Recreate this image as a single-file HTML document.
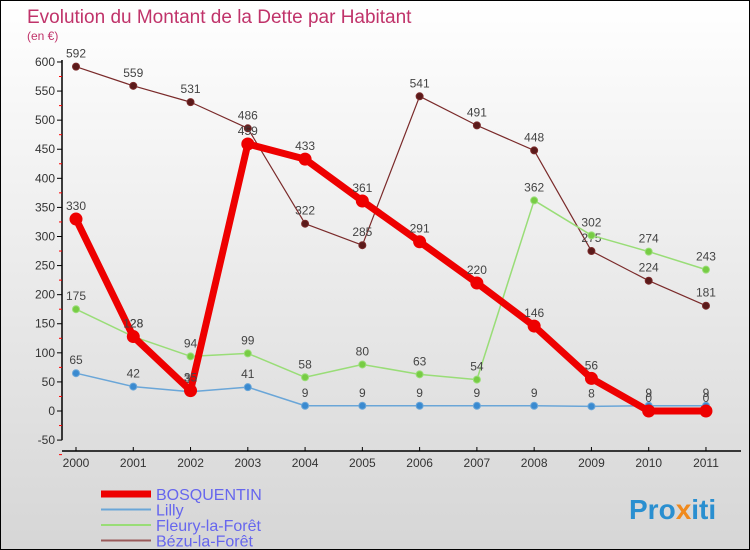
<!DOCTYPE html>
<html><head><meta charset="utf-8"><style>
body{margin:0}
#c{width:748px;height:548px;border:1px solid #000;background:linear-gradient(#fff,#d6d6d6);position:relative;font-family:"Liberation Sans",sans-serif;overflow:hidden}
svg text{font-family:"Liberation Sans",sans-serif}
</style></head><body>
<div id="c">
<svg id="s" width="748" height="548">
<text x="26" y="22" font-size="19" fill="#c0336a">Evolution du Montant de la Dette par Habitant</text>
<text x="26" y="39" font-size="12" fill="#c0336a">(en €)</text>
<text x="628" y="518" font-size="28" font-weight="bold" fill="#2a8fd0">Pro<tspan fill="#f08a1e">x</tspan>iti</text>
</svg></div>
<script>
const years=["2000","2001","2002","2003","2004","2005","2006","2007","2008","2009","2010","2011"];
const yTicks=[600,550,500,450,400,350,300,250,200,150,100,50,0,-50];
const bosquentin=[330,128,35,459,433,361,291,220,146,56,0,0];
const lilly=[65,42,33,41,9,9,9,9,9,8,9,9];
const fleury=[175,128,94,99,58,80,63,54,362,302,274,243];
const bezu=[592,559,531,486,322,285,541,491,448,275,224,181];
const NS="http://www.w3.org/2000/svg",s=document.getElementById('s');
const X=i=>75+i*57.27, Y=v=>410-v*0.5817;
function el(t,a,p){const e=document.createElementNS(NS,t);for(const k in a)e.setAttribute(k,a[k]);(p||s).appendChild(e);return e;}
// axes
let ax=el('line',{x1:61,y1:Y(600)-2,x2:61,y2:Y(-50),stroke:'#000','stroke-width':1.5});

yTicks.forEach(v=>{el('line',{x1:56,x2:61,y1:Y(v),y2:Y(v),stroke:'#000'});
 el('line',{x1:58,x2:61,y1:Y(v-25),y2:Y(v-25),stroke:'red'});
 const t=el('text',{x:54,y:Y(v)+4,'font-size':12,fill:'#333','text-anchor':'end'});t.textContent=v;
 });
let xa=el('line',{x1:61,y1:450,x2:740,y2:450,stroke:'#000','stroke-width':1.5});

years.forEach((y,i)=>{el('line',{x1:X(i),x2:X(i),y1:446,y2:450,stroke:'#000'});
 const t=el('text',{x:X(i),y:466,'font-size':12,fill:'#333','text-anchor':'middle'});t.textContent=y;
 });
function series(d,col,w,r,name,dot){
 const g=el('g',{});
 el('polyline',{points:d.map((v,i)=>X(i)+','+Y(v)).join(' '),fill:'none',stroke:col,'stroke-width':w,'stroke-linejoin':'round'},g);
 d.forEach((v,i)=>{const c=el('circle',{cx:X(i),cy:Y(v),r:r,fill:dot,stroke:col},g);
  
  const t=el('text',{x:X(i),y:Y(v)-9,'font-size':12,fill:'#444','text-anchor':'middle'},g);t.textContent=v;
  });
}
series(bezu,'#7a2a2a',1.2,3.5,'bezu-series','#5a1a1a');
series(fleury,'#99dd77',1.5,3.5,'fleury-series','#77cc44');
series(lilly,'#6aa6d8',1.5,3.5,'lilly-series','#3a8ad0');
series(bosquentin,'#ee0000',7,6,'bosquentin-series','#ee0000');
const leg=[['BOSQUENTIN','#ee0000',7],['Lilly','#6aa6d8',2],['Fleury-la-Forêt','#99dd77',2],['Bézu-la-Forêt','#9a5a5a',2]];
leg.forEach((l,i)=>{const y=493+i*15.5;const g=el('g',{});
 
 el('line',{x1:100,x2:150,y1:y,y2:y,stroke:l[1],'stroke-width':l[2]},g);
 const t=el('text',{x:155,y:y+6,'font-size':16,fill:'#6666ee'},g);t.textContent=l[0];});
</script>
</body></html>
